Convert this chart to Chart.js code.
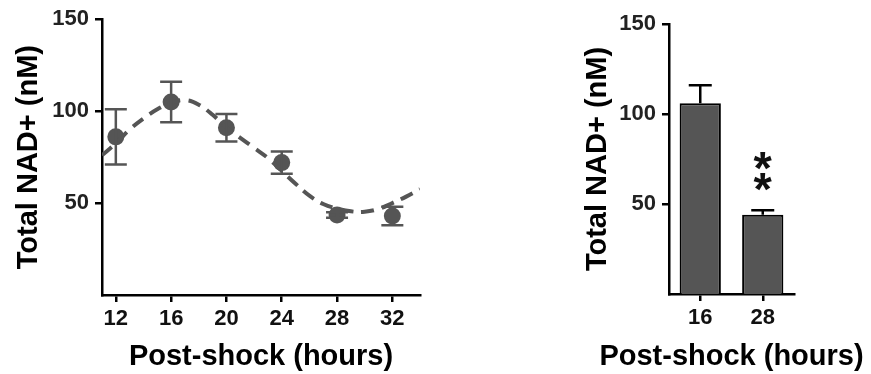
<!DOCTYPE html>
<html>
<head>
<meta charset="utf-8">
<script src="https://cdn.jsdelivr.net/npm/chart.js@4"></script>
<style>
  html, body { margin: 0; padding: 0; background: #fff; }
  body { width: 871px; height: 374px; position: relative; overflow: hidden; }
  #boxCurve { position: absolute; left: 0; top: 0; width: 450px; height: 374px; }
  #boxBars { position: absolute; left: 560px; top: 0; width: 311px; height: 374px; }
</style>
</head>
<body>
<div id="boxCurve"><canvas id="chartCurve"></canvas></div>
<div id="boxBars"><canvas id="chartBars"></canvas></div>
<script>
// left panel - NAD+ along the time course
const hours = [12, 16, 20, 24, 28, 32];
const nadMean = [86, 105, 91, 72, 43.5, 43];
const nadSem = [15, 11, 7.5, 6, 1.5, 5];

// dashed fitted curve, every hour
const fitHours = [11, 12, 13, 14, 15, 16, 17, 18, 19, 20, 21, 22, 23, 24, 25, 26, 27, 28, 29, 30, 31, 32, 33, 34];
const fitNad = [76, 82.5, 90, 96, 101, 104.5, 106, 103.5, 98, 91, 85.5, 80, 74.5, 67.5, 60.5, 54, 49.5, 47, 45.5, 45.3, 46.8, 50, 53.5, 57.5];

const hourTicks = [12, 16, 20, 24, 28, 32];
const nadTicks = [50, 100, 150];

// right panel - 16 h vs 28 h
const barLabels = ['16', '28'];
const barMean = [106, 44];
const barSem = [10, 2.5];
const barStars = ['', '**'];

const FONT = "'Liberation Sans', Arial, sans-serif";
const GREY = '#555555';

function fixTicks(list) {
  return function (scale) {
    scale.ticks = list.map(v => ({ value: v }));
  };
}

const curveErrors = {
  id: 'curveErrors',
  afterDatasetsDraw(chart) {
    const ctx = chart.ctx;
    const x = chart.scales.x;
    const y = chart.scales.y;
    ctx.save();
    ctx.strokeStyle = GREY;
    ctx.lineWidth = 2.5;
    for (let i = 0; i < hours.length; i++) {
      const px = x.getPixelForValue(hours[i]);
      const top = y.getPixelForValue(nadMean[i] + nadSem[i]);
      const bottom = y.getPixelForValue(nadMean[i] - nadSem[i]);
      ctx.beginPath();
      ctx.moveTo(px, top);
      ctx.lineTo(px, bottom);
      ctx.moveTo(px - 11, top);
      ctx.lineTo(px + 11, top);
      ctx.moveTo(px - 11, bottom);
      ctx.lineTo(px + 11, bottom);
      ctx.stroke();
    }
    ctx.restore();
  }
};

const barExtras = {
  id: 'barExtras',
  afterDatasetsDraw(chart) {
    const ctx = chart.ctx;
    const y = chart.scales.y;
    const meta = chart.getDatasetMeta(0);
    ctx.save();
    ctx.strokeStyle = '#000';
    ctx.lineWidth = 2.5;
    meta.data.forEach((bar, i) => {
      const top = y.getPixelForValue(barMean[i] + barSem[i]);
      ctx.beginPath();
      ctx.moveTo(bar.x, bar.y);
      ctx.lineTo(bar.x, top);
      ctx.moveTo(bar.x - 11.5, top);
      ctx.lineTo(bar.x + 11.5, top);
      ctx.stroke();

      // significance stars, stacked
      const stars = barStars[i];
      ctx.fillStyle = '#111';
      ctx.font = 'bold 47px ' + FONT;
      ctx.textAlign = 'center';
      ctx.textBaseline = 'alphabetic';
      for (let k = 0; k < stars.length; k++) {
        const m = ctx.measureText('*');
        const cy = top - 28 - (stars.length - 1 - k) * 21;
        const base = cy - (m.actualBoundingBoxDescent - m.actualBoundingBoxAscent) / 2;
        ctx.fillText('*', bar.x, base);
      }
    });

    // x title drawn by hand so it is not squeezed to the short axis
    const area = chart.chartArea;
    ctx.fillStyle = '#000';
    ctx.font = 'bold 29px ' + FONT;
    ctx.textAlign = 'center';
    ctx.textBaseline = 'middle';
    ctx.fillText('Post-shock (hours)', (area.left + area.right) / 2, 357);
    ctx.restore();
  }
};

const axisBase = {
  border: { color: '#000', width: 2.5 },
  grid: { drawOnChartArea: false, drawTicks: true, tickLength: 7, color: '#000', lineWidth: 2.5 },
};

const configCurve = {
  type: 'scatter',
  data: {
    datasets: [
      {
        label: 'fit',
        data: fitHours.map((h, i) => ({ x: h, y: fitNad[i] })),
        showLine: true,
        borderColor: GREY,
        borderWidth: 4,
        borderDash: [13, 8],
        tension: 0.4,
        pointRadius: 0,
      },
      {
        label: 'NAD+',
        data: hours.map((h, i) => ({ x: h, y: nadMean[i] })),
        backgroundColor: GREY,
        borderWidth: 0,
        pointRadius: 8.5,
      },
    ]
  },
  options: {
    responsive: true,
    maintainAspectRatio: false,
    animation: false,
    layout: { padding: { top: 19, right: 30, bottom: 0, left: 0 } },
    plugins: { legend: { display: false }, tooltip: { enabled: false } },
    scales: {
      x: {
        type: 'linear',
        min: 11,
        max: 34,
        afterBuildTicks: fixTicks(hourTicks),
        afterFit: s => { s.height = 79; },
        ...axisBase,
        ticks: { color: '#111', font: { family: FONT, size: 22, weight: 'bold' }, padding: 4 },
        title: { display: true, text: 'Post-shock (hours)', color: '#000', font: { family: FONT, size: 29, weight: 'bold' }, padding: { top: 0, bottom: 0 } },
      },
      y: {
        min: 0,
        max: 150,
        afterBuildTicks: fixTicks(nadTicks),
        afterFit: s => { s.width = 102; },
        ...axisBase,
        ticks: { color: '#222', font: { family: FONT, size: 22, weight: 'bold' }, padding: 6 },
        title: { display: true, text: 'Total NAD+ (nM)', color: '#000', font: { family: FONT, size: 29, weight: 'bold' }, padding: { top: 12, bottom: 0 } },
      }
    }
  },
  plugins: [curveErrors]
};

var myChartCurve = new Chart(document.getElementById('chartCurve'), configCurve);

const configBars = {
  type: 'bar',
  data: {
    labels: barLabels,
    datasets: [{
      label: 'NAD+',
      data: barMean,
      backgroundColor: GREY,
      borderColor: '#000',
      borderWidth: 2,
      categoryPercentage: 1,
      barPercentage: 0.66,
    }]
  },
  options: {
    responsive: true,
    maintainAspectRatio: false,
    animation: false,
    layout: { padding: { top: 24, right: 77, bottom: 0, left: 0 } },
    plugins: { legend: { display: false }, tooltip: { enabled: false } },
    scales: {
      x: {
        afterFit: s => { s.height = 80; },
        ...axisBase,
        grid: { ...axisBase.grid, offset: false },
        ticks: { color: '#111', font: { family: FONT, size: 22, weight: 'bold' }, padding: 4 },
      },
      y: {
        min: 0,
        max: 150,
        afterBuildTicks: fixTicks(nadTicks),
        afterFit: s => { s.width = 109; },
        ...axisBase,
        ticks: { color: '#222', font: { family: FONT, size: 22, weight: 'bold' }, padding: 6 },
        title: { display: true, text: 'Total NAD+ (nM)', color: '#000', font: { family: FONT, size: 29, weight: 'bold' }, padding: { top: 21, bottom: 0 } },
      }
    }
  },
  plugins: [barExtras]
};

var myChartBars = new Chart(document.getElementById('chartBars'), configBars);
</script>
</body>
</html>
